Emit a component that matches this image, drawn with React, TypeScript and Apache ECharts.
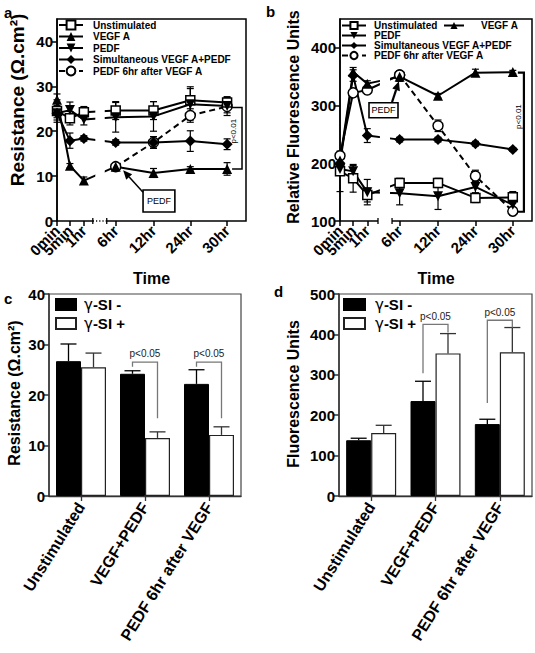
import React, { useEffect, useRef } from 'react';
import * as echarts from 'echarts';

const FONT = '"Liberation Sans", Arial, Helvetica, sans-serif';

// ---------- shared time axis ----------
const timeLabels = ['0min', '5min', '1hr', '6hr', '12hr', '24hr', '30hr'];
const timePos = [0, 13, 27, 59, 97, 134, 171];
// labels drawn on a second (overlaid) axis so that crowded early labels all show
const extraLabelIdx = [1];

const nUn = 'Unstimulated';
const nVe = 'VEGF A';
const nPe = 'PEDF';
const nSi = 'Simultaneous VEGF A+PEDF';
const nLa = 'PEDF 6hr after VEGF A';

// ---------- panel a: resistance ----------
const aUnstim = [24.5, 22.9, 24.2, 24.6, 24.6, 26.9, 26.4];
const aUnstimErr = [2.5, 1.5, 1.3, 2.0, 2.0, 3.0, 1.3];
const aVegf = [27.0, 12.3, 9.0, 12.1, 10.7, 11.6, 11.6];
const aVegfErr = [1.3, 0.5, 0.8, 0.8, 1.0, 0.5, 1.4];
const aPedf = [24.0, 24.7, 22.6, 23.1, 23.3, 26.0, 25.6];
const aPedfErr = [1.5, 1.8, 1.2, 3.3, 3.3, 3.5, 1.5];
const aSim = [24.0, 17.9, 18.4, 17.5, 17.5, 17.8, 17.1];
const aSimErr = [1.0, 1.7, 0.6, 0.6, 1.3, 2.3, 1.2];
const aLate = [null, null, null, 12.1, 17.5, 23.5, 25.5];
const aLateErr = [0, 0, 0, 0.7, 1.3, 1.5, 2.0];

// ---------- panel b: fluorescence ----------
const bUnstim = [186, 174, 145, 166, 166, 140, 141];
const bUnstimErr = [35, 24, 12, 8, 8, 8, 10];
const bVegf = [205, 358, 338, 350, 317, 357, 358];
const bVegfErr = [5, 8, 5, 8, 4, 6, 3];
const bPedf = [190, 186, 150, 148, 143, 159, 128];
const bPedfErr = [8, 10, 22, 20, 23, 10, 8];
const bSim = [200, 352, 248, 241, 241, 234, 224];
const bSimErr = [8, 10, 12, 4, 4, 4, 3];
const bEarly = [213, 322, 327, 353, null, null, null];
const bLate = [null, null, null, 353, 265, 178, 117];
const bLateErr = [5, 10, 8, 6, 10, 10, 5];

// ---------- panels c, d: bars ----------
const barCats = ['Unstimulated', 'VEGF+PEDF', 'PEDF 6hr after VEGF'];
const nMinus = 'γ-SI -';
const nPlus = 'γ-SI +';
const cMinus = [26.7, 24.2, 22.2];
const cMinusErr = [3.4, 0.6, 2.8];
const cPlus = [25.5, 11.5, 12.1];
const cPlusErr = [2.8, 1.2, 1.6];
const dMinus = [138, 235, 178];
const dMinusErr = [5, 49, 12];
const dPlus = [156, 353, 356];
const dPlusErr = [19, 49, 61];
// significance brackets: [category, top, left leg bottom, right leg bottom, text y]
const cBrackets = [
  [1, 26.5, 25.6, 15.4, 28.3],
  [2, 26.5, 25.6, 15.4, 28.3],
];
const dBrackets = [
  [1, 425, 304, 405, 444],
  [2, 435, 230, 417, 454],
];
const sigText = 'p<0.05';

// ---------- annotation layout (data coords) ----------
const annoA = {
  gapX: [38.5, 48], gapY: [1, 29], axisY: 0,
  brk: [36, 50], dotted: true,
  bracket: [[176, 25.3], [186, 25.3], [186, 11.6], [176, 11.6]],
  pText: [177, 20], bw: 1.5,
  box: [86.5, 6.9, 118.5, 2.0],
  arrow: [[86.5, 6.4], [66.5, 11.3]], aw: 1.5,
};
const annoB = {
  gapX: [39.5, 49.5], gapY: [101, 375], axisY: 100,
  brk: [37.6, 51.5], dotted: false,
  bracket: [[176, 357], [182, 357], [182, 116], [176, 116]],
  pText: [176.5, 281], bw: 2.2,
  box: [28.7, 305, 57.4, 279],
  arrow: [[51.5, 306], [58.3, 342]], aw: 2.2,
};

const symDown = 'path://M0,0L10,0L5,9Z';
const styles: Record<string, any> = {
  [nUn]: { symbol: 'rect', open: true, size: 9 },
  [nVe]: { symbol: 'triangle', open: false, size: 10 },
  [nPe]: { symbol: symDown, open: false, size: 10 },
  [nSi]: { symbol: 'diamond', open: false, size: 11 },
  [nLa]: { symbol: 'circle', open: true, size: 10 },
};

function pts(vals: (number | null)[]) {
  const out: number[][] = [];
  vals.forEach((v, i) => { if (v != null) out.push([timePos[i], v]); });
  return out;
}

function mkLine(name: string, vals: (number | null)[], idx: number, dashed = false) {
  const s = styles[name];
  return {
    type: 'line', name, xAxisIndex: idx, yAxisIndex: idx,
    data: pts(vals), symbol: s.symbol, symbolSize: s.size, showSymbol: true,
    clip: false, z: 3,
    lineStyle: { color: '#000', width: 2, type: dashed ? [6, 4] : 'solid' },
    itemStyle: { color: s.open ? '#fff' : '#000', borderColor: '#000', borderWidth: s.open ? 1.5 : 0 },
    emphasis: { disabled: true },
  };
}

function errData(list: [(number | null)[], number[]][]) {
  const out: number[][] = [];
  list.forEach(([vals, errs]) => {
    vals.forEach((v, i) => { if (v != null && errs[i] > 0) out.push([timePos[i], v, errs[i]]); });
  });
  return out;
}

function lineErr(idx: number, data: number[][]) {
  return {
    type: 'custom', xAxisIndex: idx, yAxisIndex: idx, z: 1, data, encode: { x: 0, y: 1 },
    silent: true,
    renderItem: (_p: any, api: any) => {
      const x = api.value(0), y = api.value(1), e = api.value(2);
      const t = api.coord([x, y + e]);
      const b = api.coord([x, y - e]);
      const st = { stroke: '#000', lineWidth: 1.2 };
      const hw = 3.5;
      return {
        type: 'group', children: [
          { type: 'line', shape: { x1: t[0], y1: t[1], x2: b[0], y2: b[1] }, style: st },
          { type: 'line', shape: { x1: t[0] - hw, y1: t[1], x2: t[0] + hw, y2: t[1] }, style: st },
          { type: 'line', shape: { x1: b[0] - hw, y1: b[1], x2: b[0] + hw, y2: b[1] }, style: st },
        ],
      };
    },
  };
}

function decor(idx: number, anno: any) {
  return {
    type: 'custom', xAxisIndex: idx, yAxisIndex: idx, z: 10, silent: true,
    data: [[0, anno.axisY]], encode: { x: 0, y: 1 },
    renderItem: (_p: any, api: any) => {
      const P = (x: number, y: number) => api.coord([x, y]);
      const ch: any[] = [];
      const g0 = P(anno.gapX[0], anno.gapY[1]);
      const g1 = P(anno.gapX[1], anno.gapY[0]);
      ch.push({ type: 'rect', shape: { x: g0[0], y: g0[1], width: g1[0] - g0[0], height: g1[1] - g0[1] }, style: { fill: '#fff' } });
      const b0 = P(anno.brk[0], anno.axisY);
      const b1 = P(anno.brk[1], anno.axisY);
      ch.push({ type: 'rect', shape: { x: b0[0], y: b0[1] - 2.5, width: b1[0] - b0[0], height: 5 }, style: { fill: '#fff' } });
      const tk = { stroke: '#000', lineWidth: 1.3 };
      ch.push({ type: 'line', shape: { x1: b0[0], y1: b0[1] - 3, x2: b0[0], y2: b0[1] + 3 }, style: tk });
      ch.push({ type: 'line', shape: { x1: b1[0], y1: b1[1] - 3, x2: b1[0], y2: b1[1] + 3 }, style: tk });
      if (anno.dotted) {
        ch.push({ type: 'line', shape: { x1: b0[0], y1: b0[1], x2: b1[0], y2: b1[1] }, style: { stroke: '#000', lineWidth: 1.3, lineDash: [1.2, 2] } });
      }
      ch.push({ type: 'polyline', shape: { points: anno.bracket.map((p: number[]) => P(p[0], p[1])) }, style: { stroke: '#000', lineWidth: anno.bw, fill: null } });
      const pt = P(anno.pText[0], anno.pText[1]);
      ch.push({ type: 'text', x: pt[0], y: pt[1], rotation: Math.PI / 2, style: { text: 'p<0.01', fill: '#000', font: `8px ${FONT}`, align: 'center', verticalAlign: 'middle', textAlign: 'center', textVerticalAlign: 'middle' } });
      const r0 = P(anno.box[0], anno.box[1]);
      const r1 = P(anno.box[2], anno.box[3]);
      ch.push({ type: 'rect', shape: { x: r0[0], y: r0[1], width: r1[0] - r0[0], height: r1[1] - r0[1] }, style: { fill: '#fff', stroke: '#000', lineWidth: 1.6 } });
      ch.push({ type: 'text', x: (r0[0] + r1[0]) / 2, y: (r0[1] + r1[1]) / 2, style: { text: 'PEDF', fill: '#000', font: `9px ${FONT}`, align: 'center', verticalAlign: 'middle', textAlign: 'center', textVerticalAlign: 'middle' } });
      const a0 = P(anno.arrow[0][0], anno.arrow[0][1]);
      const a1 = P(anno.arrow[1][0], anno.arrow[1][1]);
      const dx = a1[0] - a0[0], dy = a1[1] - a0[1];
      const L = Math.sqrt(dx * dx + dy * dy);
      const ux = dx / L, uy = dy / L;
      const hl = 9, hw = 4;
      const bx = a1[0] - ux * hl, by = a1[1] - uy * hl;
      ch.push({ type: 'line', shape: { x1: a0[0], y1: a0[1], x2: bx, y2: by }, style: { stroke: '#000', lineWidth: anno.aw } });
      ch.push({ type: 'polygon', shape: { points: [[a1[0], a1[1]], [bx - uy * hw, by + ux * hw], [bx + uy * hw, by - ux * hw]] }, style: { fill: '#000' } });
      return { type: 'group', children: ch };
    },
  };
}

function barErr(idx: number, minus: number[], minusErr: number[], plus: number[], plusErr: number[]) {
  const data: number[][] = [];
  minus.forEach((v, i) => data.push([i, v, minusErr[i], -1]));
  plus.forEach((v, i) => data.push([i, v, plusErr[i], 1]));
  return {
    type: 'custom', xAxisIndex: idx, yAxisIndex: idx, z: 4, silent: true, data, encode: { x: 0, y: 1 },
    renderItem: (_p: any, api: any) => {
      const c = api.coord([api.value(0), api.value(1)]);
      const t = api.coord([api.value(0), api.value(1) + api.value(2)]);
      const x = c[0] + api.value(3) * 12.5;
      const st = { stroke: api.value(3) < 0 ? '#000' : '#333', lineWidth: 1.3 };
      return {
        type: 'group', children: [
          { type: 'line', shape: { x1: x, y1: c[1], x2: x, y2: t[1] }, style: st },
          { type: 'line', shape: { x1: x - 8, y1: t[1], x2: x + 8, y2: t[1] }, style: st },
        ],
      };
    },
  };
}

function brackets(idx: number, list: number[][]) {
  return {
    type: 'custom', xAxisIndex: idx, yAxisIndex: idx, z: 5, silent: true, data: list, encode: { x: 0, y: 1 },
    renderItem: (_p: any, api: any) => {
      const cat = api.value(0);
      const top = api.coord([cat, api.value(1)]);
      const yl = api.coord([cat, api.value(2)])[1];
      const yr = api.coord([cat, api.value(3)])[1];
      const ty = api.coord([cat, api.value(4)])[1];
      const xl = top[0] - 12.5, xr = top[0] + 12.5;
      return {
        type: 'group', children: [
          { type: 'polyline', shape: { points: [[xl, yl], [xl, top[1]], [xr, top[1]], [xr, yr]] }, style: { stroke: '#777', lineWidth: 1.3, fill: null } },
          { type: 'text', x: top[0], y: ty, style: { text: sigText, fill: '#222', font: `10px ${FONT}`, align: 'center', verticalAlign: 'middle', textAlign: 'center', textVerticalAlign: 'middle' } },
        ],
      };
    },
  };
}

const tickLbl = { color: '#000', fontWeight: 'bold', fontSize: 15, fontFamily: FONT };
const blackLine = { color: '#000', width: 1.5 };

function timeX(idx: number, extra: boolean) {
  const vals = timePos.filter((_, i) => extraLabelIdx.includes(i) === extra);
  return {
    type: 'value', gridIndex: idx, min: 0, max: 190, position: 'bottom', offset: 0,
    axisLine: { show: false }, splitLine: { show: false },
    axisTick: { show: true, customValues: vals, length: 5, lineStyle: blackLine },
    axisLabel: {
      ...tickLbl, customValues: vals, rotate: 45, margin: 7,
      showMinLabel: true, showMaxLabel: true, hideOverlap: false,
      formatter: (v: number) => timeLabels[timePos.indexOf(v)] ?? '',
    },
    name: extra ? '' : 'Time', nameLocation: 'middle', nameGap: 49,
    nameTextStyle: { color: '#000', fontWeight: 'bold', fontSize: 16, fontFamily: FONT },
  };
}

function valY(idx: number, min: number, max: number, ticks: number[], lineColor = '#000') {
  return {
    type: 'value', gridIndex: idx, min, max,
    axisLine: { show: true, lineStyle: { color: lineColor, width: 1.5 } },
    splitLine: { show: false },
    axisTick: { show: true, customValues: ticks, length: 5, lineStyle: { color: lineColor, width: 1.5 } },
    axisLabel: { ...tickLbl, customValues: ticks, margin: 4, showMinLabel: true, showMaxLabel: true },
  };
}

function catX(idx: number) {
  return {
    type: 'category', gridIndex: idx, data: barCats,
    axisLine: { show: true, lineStyle: { color: '#333', width: 1.3 } },
    axisTick: { show: true, alignWithLabel: true, length: 5, lineStyle: { color: '#333', width: 1.3 } },
    axisLabel: { ...tickLbl, fontSize: 16, rotate: 58, interval: 0, margin: 8 },
    splitLine: { show: false },
  };
}

const lineLegendText = { color: '#000', fontWeight: 'bold', fontSize: 10, fontFamily: FONT };
const barLegendRich = {
  g: { fontSize: 15, fontFamily: '"DejaVu Sans", sans-serif', fontWeight: 'normal', color: '#000', lineHeight: 11 },
  b: { fontSize: 15, fontFamily: FONT, fontWeight: 'bold', color: '#000', lineHeight: 11 },
};

function yName(text: string, x: number, y: number, size: number) {
  return {
    type: 'text', x, y, rotation: Math.PI / 2, z: 20,
    style: { text, fill: '#000', font: `bold ${size}px ${FONT}`, textAlign: 'center', textVerticalAlign: 'middle' },
  };
}
function letter(text: string, x: number, y: number) {
  return { type: 'text', x, y, z: 20, style: { text, fill: '#000', font: `bold 15px ${FONT}` } };
}

const gridBase = { show: true, backgroundColor: 'transparent', outerBoundsMode: 'none', containLabel: false };

const option: any = {
  animation: false,
  backgroundColor: '#fff',
  textStyle: { fontFamily: FONT },
  grid: [
    { ...gridBase, left: 57, top: 19, width: 189, height: 202, borderColor: '#000', borderWidth: 1.5 },
    { ...gridBase, left: 340, top: 19, width: 192, height: 202, borderColor: '#000', borderWidth: 1.5 },
    { ...gridBase, left: 49, top: 294, width: 192, height: 202, borderColor: '#444', borderWidth: 1.2 },
    { ...gridBase, left: 339, top: 294, width: 193, height: 202, borderColor: '#444', borderWidth: 1.2 },
  ],
  xAxis: [timeX(0, false), timeX(1, false), catX(2), catX(3), timeX(0, true), timeX(1, true)],
  yAxis: [
    valY(0, 0, 45, [0, 10, 20, 30, 40]),
    valY(1, 100, 450, [100, 200, 300, 400]),
    valY(2, 0, 40, [0, 10, 20, 30, 40], '#333'),
    valY(3, 0, 500, [0, 100, 200, 300, 400, 500], '#333'),
  ],
  legend: [
    {
      data: [nUn, nVe, nPe, nSi, nLa], orient: 'vertical', left: 58, top: 19.5, padding: 0,
      itemWidth: 24, itemHeight: 11, itemGap: 0.5, selectedMode: false,
      textStyle: { ...lineLegendText, lineHeight: 11, padding: [0, 0, 0, 5] },
    },
    {
      data: [nUn, nPe, nSi, nLa], orient: 'vertical', left: 341, top: 20.5, padding: 0,
      itemWidth: 24, itemHeight: 9, itemGap: 0, selectedMode: false,
      textStyle: { ...lineLegendText, lineHeight: 9, padding: [0, 0, 0, 3] },
    },
    {
      data: [nVe], orient: 'vertical', left: 443, top: 20.5, padding: 0,
      itemWidth: 20, itemHeight: 9, itemGap: 0, selectedMode: false,
      textStyle: { ...lineLegendText, lineHeight: 9, padding: [0, 0, 0, 12] },
    },
    {
      data: [nMinus, nPlus], orient: 'vertical', left: 55, top: 297, padding: 0, icon: 'rect',
      itemWidth: 20, itemHeight: 11, itemGap: 4, selectedMode: false,
      formatter: (n: string) => `{g|γ}{b|${n.slice(1)}}`,
      textStyle: { rich: barLegendRich, padding: [0, 0, 0, 3] },
    },
    {
      data: [nMinus, nPlus], orient: 'vertical', left: 343, top: 297, padding: 0, icon: 'rect',
      itemWidth: 21, itemHeight: 11, itemGap: 4, selectedMode: false,
      formatter: (n: string) => `{g|γ}{b|${n.slice(1)}}`,
      textStyle: { rich: barLegendRich, padding: [0, 0, 0, 5] },
    },
  ],
  series: [
    // panel a
    lineErr(0, errData([[aUnstim, aUnstimErr], [aVegf, aVegfErr], [aPedf, aPedfErr], [aSim, aSimErr], [aLate, aLateErr]])),
    mkLine(nLa, aLate, 0, true),
    mkLine(nUn, aUnstim, 0),
    mkLine(nVe, aVegf, 0),
    mkLine(nPe, aPedf, 0),
    mkLine(nSi, aSim, 0),
    decor(0, annoA),
    // panel b
    lineErr(1, errData([[bUnstim, bUnstimErr], [bVegf, bVegfErr], [bPedf, bPedfErr], [bSim, bSimErr], [bLate, bLateErr]])),
    mkLine(nLa, bLate, 1, true),
    mkLine(nLa, bEarly, 1),
    mkLine(nUn, bUnstim, 1),
    mkLine(nVe, bVegf, 1),
    mkLine(nPe, bPedf, 1),
    mkLine(nSi, bSim, 1),
    decor(1, annoB),
    // panel c
    { type: 'bar', name: nMinus, xAxisIndex: 2, yAxisIndex: 2, data: cMinus, barWidth: 25, barGap: '0%', itemStyle: { color: '#000', borderColor: '#000', borderWidth: 1 }, emphasis: { disabled: true } },
    { type: 'bar', name: nPlus, xAxisIndex: 2, yAxisIndex: 2, data: cPlus, barWidth: 25, barGap: '0%', itemStyle: { color: '#fff', borderColor: '#222', borderWidth: 1.2 }, emphasis: { disabled: true } },
    barErr(2, cMinus, cMinusErr, cPlus, cPlusErr),
    brackets(2, cBrackets),
    // panel d
    { type: 'bar', name: nMinus, xAxisIndex: 3, yAxisIndex: 3, data: dMinus, barWidth: 25, barGap: '0%', itemStyle: { color: '#000', borderColor: '#000', borderWidth: 1 }, emphasis: { disabled: true } },
    { type: 'bar', name: nPlus, xAxisIndex: 3, yAxisIndex: 3, data: dPlus, barWidth: 25, barGap: '0%', itemStyle: { color: '#fff', borderColor: '#222', borderWidth: 1.2 }, emphasis: { disabled: true } },
    barErr(3, dMinus, dMinusErr, dPlus, dPlusErr),
    brackets(3, dBrackets),
  ],
  graphic: [
    letter('a', 4, 5),
    letter('b', 266, 4),
    letter('c', 4, 291),
    letter('d', 274, 284),
    yName('Resistance (Ω.cm²)', 17, 100, 19),
    yName('Relative Fluorescence Units', 293, 117, 16),
    yName('Resistance (Ω.cm²)', 14, 393, 16),
    yName('Fluorescence Units', 293, 394, 16),
  ],
};

export default function App() {
  const ref = useRef<HTMLDivElement>(null);
  useEffect(() => {
    const chart = echarts.init(ref.current!, null, { renderer: 'svg' });
    chart.setOption(option);
    return () => chart.dispose();
  }, []);
  return (
    <div
      ref={ref}
      style={{ position: 'absolute', left: 0, top: 0, width: 535, height: 653, background: '#fff' }}
    />
  );
}
